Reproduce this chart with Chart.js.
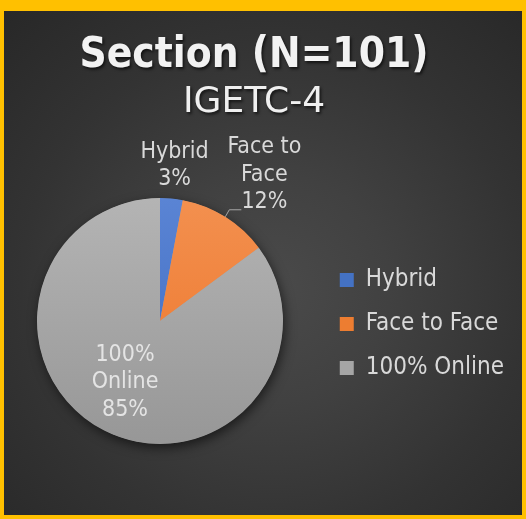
<!DOCTYPE html>
<html>
<head>
<meta charset="utf-8">
<script src="https://cdn.jsdelivr.net/npm/chart.js@4/dist/chart.umd.min.js"></script>
<style>
  html, body { margin:0; padding:0; width:526px; height:519px; background:#FFC000; overflow:hidden; }
  #wrap { position:absolute; left:4px; top:11px; width:518px; height:504px;
    background: radial-gradient(ellipse 75% 75% at 52% 55%, #4a4a4a 0%, #414141 30%, #333333 65%, #282828 100%); }
</style>
</head>
<body>
<div id="wrap"><canvas id="c"></canvas></div>
<script>
const categories = ['Hybrid', 'Face to Face', '100% Online'];
const counts = [3, 12, 86];
const wrappedNames = [['Hybrid'], ['Face to', 'Face'], ['100%', 'Online']];
const titleText = 'Section (N=101)';
const subtitleText = 'IGETC-4';

const FAM = '"DejaVu Sans Condensed", "DejaVu Sans", sans-serif';
const flatColors = ['#4472C4', '#ED7D31', '#A5A5A5'];
const gradStops = [['#5a84d4', '#3c69be'], ['#f3904f', '#ec7327'], ['#b4b4b4', '#979797']];
// label placement: radial factor of outer radius + pixel nudge
const labelPlace = [
  {r: 1.27, dx: 0, dy: 0, color: '#d9d9d9', leader: false},
  {r: 1.46, dx: 9, dy: 6, color: '#d9d9d9', leader: true},
  {r: 0.56, dx: -4, dy: 0, color: '#e4e4e4', leader: false}
];

function sliceFill(c) {
  const chart = c.chart;
  const area = chart.chartArea;
  const i = c.dataIndex;
  if (!area || i === undefined) return flatColors[i || 0];
  const g = chart.ctx.createLinearGradient(0, area.top, 0, area.bottom);
  g.addColorStop(0, gradStops[i][0]);
  g.addColorStop(1, gradStops[i][1]);
  return g;
}

const areaPlugin = {
  id: 'area',
  afterLayout(chart) {
    const a = chart.chartArea;
    a.left = 33; a.right = 279; a.top = 187; a.bottom = 433;
    a.width = a.right - a.left; a.height = a.bottom - a.top;
    const lg = chart.legend;
    if (lg) { lg.top += 61; lg.bottom += 61; }
    // soft drop shadow behind title and subtitle text
    chart.boxes.forEach(b => {
      if (b._shadowed || !b.options || (b.options.text !== titleText && b.options.text !== subtitleText)) return;
      const orig = b.draw;
      b.draw = function () {
        const ctx = chart.ctx;
        ctx.save();
        ctx.shadowColor = 'rgba(0,0,0,0.65)';
        ctx.shadowBlur = 3;
        ctx.shadowOffsetX = 1.5;
        ctx.shadowOffsetY = 2;
        orig.apply(this, arguments);
        ctx.restore();
      };
      b._shadowed = true;
    });
  }
};

const shadowPlugin = {
  id: 'pieShadow',
  beforeDatasetsDraw(chart) {
    const el = chart.getDatasetMeta(0).data[0];
    if (!el) return;
    const ctx = chart.ctx;
    ctx.save();
    ctx.shadowColor = 'rgba(0,0,0,0.6)';
    ctx.shadowBlur = 12;
    ctx.shadowOffsetX = 2;
    ctx.shadowOffsetY = 4;
    ctx.fillStyle = '#a0a0a0';
    ctx.beginPath();
    ctx.arc(el.x, el.y, el.outerRadius - 0.5, 0, Math.PI * 2);
    ctx.fill();
    ctx.restore();
  }
};

const labelPlugin = {
  id: 'sliceLabels',
  afterDatasetsDraw(chart) {
    const meta = chart.getDatasetMeta(0);
    const ctx = chart.ctx;
    const total = counts.reduce((s, v) => s + v, 0);
    ctx.save();
    ctx.font = '23px ' + FAM;
    ctx.textAlign = 'center';
    ctx.textBaseline = 'middle';
    meta.data.forEach((el, i) => {
      const mid = (el.startAngle + el.endAngle) / 2;
      const p = labelPlace[i];
      const R = el.outerRadius;
      const cx = el.x + Math.cos(mid) * R * p.r + p.dx;
      const cy = el.y + Math.sin(mid) * R * p.r + p.dy;
      const lines = wrappedNames[i].concat([Math.round(counts[i] / total * 100) + '%']);
      const lh = 27.5;
      const y0 = cy - (lines.length - 1) * lh / 2;
      ctx.fillStyle = p.color;
      lines.forEach((t, k) => ctx.fillText(t, cx, y0 + k * lh));
      if (p.leader) {
        const ex = el.x + Math.cos(mid) * R;
        const ey = el.y + Math.sin(mid) * R;
        ctx.strokeStyle = '#a6a6a6';
        ctx.lineWidth = 1;
        ctx.beginPath();
        ctx.moveTo(ex, ey);
        ctx.lineTo(ex + 4, ey - 7);
        ctx.lineTo(ex + 16, ey - 7);
        ctx.stroke();
      }
    });
    ctx.restore();
  }
};

new Chart(document.getElementById('c'), {
  type: 'pie',
  data: {
    labels: categories,
    datasets: [{ data: counts, backgroundColor: sliceFill, borderWidth: 0, hoverOffset: 0 }]
  },
  options: {
    responsive: true,
    maintainAspectRatio: false,
    animation: false,
    layout: { padding: { left: -10, right: 8, top: 0, bottom: 0 } },
    plugins: {
      title: { display: true, text: titleText, color: '#f2f2f2',
        font: { family: FAM, size: 42, weight: 'bold' }, padding: { top: 20, bottom: 0 } },
      subtitle: { display: true, text: subtitleText, color: '#f0f0f0',
        font: { family: '"DejaVu Sans", sans-serif', size: 36, weight: 'normal' }, padding: { top: 0, bottom: 10 } },
      legend: {
        position: 'right',
        labels: {
          color: '#d9d9d9', font: { family: FAM, size: 24 }, boxWidth: 14, boxHeight: 14, padding: 20,
          generateLabels(chart) {
            const items = Chart.overrides.pie.plugins.legend.labels.generateLabels(chart);
            items.forEach((it, i) => { it.fillStyle = flatColors[i]; it.strokeStyle = flatColors[i]; it.lineWidth = 0; });
            return items;
          }
        }
      },
      tooltip: { enabled: false }
    }
  },
  plugins: [areaPlugin, shadowPlugin, labelPlugin]
});
</script>
</body>
</html>
